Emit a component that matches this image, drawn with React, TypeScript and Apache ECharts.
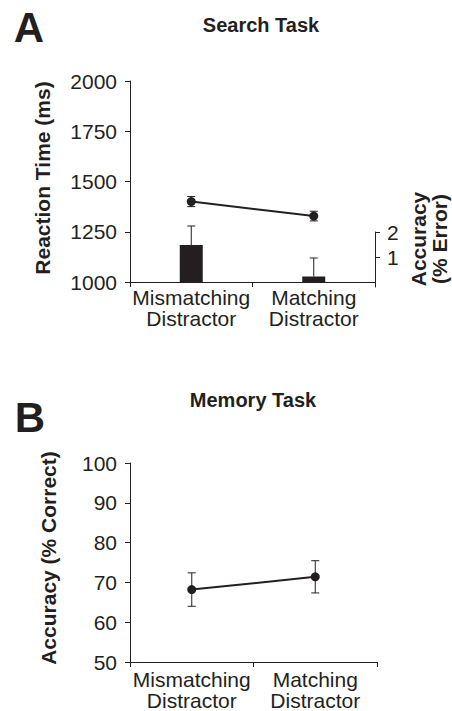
import React, { useEffect, useRef } from "react";
import * as echarts from "echarts";

const categories = ["Mismatching\nDistractor", "Matching\nDistractor"];
// Panel A: Search task
const rtMeans = [1400, 1328];
const rtErrors = [25, 24];
const errorRates = [1.48, 0.22];
const errorRateErrors = [0.76, 0.74];
const rtTicks = [1000, 2000, 250];
const errTickValues = [1, 2];
// Panel B: Memory task
const memoryAcc = [68.2, 71.4];
const memoryErrors = [4.2, 4.05];
const accTicks = [50, 100, 10];

const INK = "#231f20";
const FONT = "'Liberation Sans', Arial, Helvetica, sans-serif";

function errorBarItem(capBottom: boolean) {
  return (params: any, api: any) => {
    const x = api.value(0);
    const hi = api.value(1);
    const lo = api.value(2);
    const pHi = api.coord([x, hi]);
    const pLo = api.coord([x, lo]);
    const cap = 4;
    const children: any[] = [
      { type: "line", shape: { x1: pHi[0], y1: pHi[1], x2: pLo[0], y2: pLo[1] }, style: { stroke: INK, lineWidth: 1 } },
      { type: "line", shape: { x1: pHi[0] - cap, y1: pHi[1], x2: pHi[0] + cap, y2: pHi[1] }, style: { stroke: INK, lineWidth: 1 } },
    ];
    if (capBottom) {
      children.push({ type: "line", shape: { x1: pLo[0] - cap, y1: pLo[1], x2: pLo[0] + cap, y2: pLo[1] }, style: { stroke: INK, lineWidth: 1 } });
    }
    return { type: "group", children };
  };
}

export default function App() {
  const ref = useRef<HTMLDivElement>(null);
  useEffect(() => {
    if (!ref.current) return;
    const chart = echarts.init(ref.current, undefined, { renderer: "svg" });

    const axisLineStyle = { lineStyle: { color: INK, width: 1 } };
    const tickLabel = { color: INK, fontSize: 21, fontFamily: FONT, formatter: (v: any) => String(v) };

    const catAxis = (gridIndex: number, margin: number, show = true) => ({
      type: "category",
      gridIndex,
      data: categories,
      show,
      boundaryGap: true,
      axisLine: axisLineStyle,
      axisTick: { show: true, length: 5, lineStyle: { color: INK } },
      axisLabel: { color: INK, fontSize: 21, fontFamily: FONT, margin, lineHeight: 21, interval: 0 },
      splitLine: { show: false },
    });

    const option: any = {
      animation: false,
      backgroundColor: "#ffffff",
      textStyle: { fontFamily: FONT },
      grid: [
        { left: 130, top: 81, width: 245, height: 201 },
        { left: 130, top: 232, width: 245, height: 55 },
        { left: 130, top: 463, width: 247, height: 201 },
      ],
      xAxis: [catAxis(0, 5), catAxis(1, 5, false), catAxis(2, 7)],
      yAxis: [
        {
          type: "value",
          gridIndex: 0,
          min: rtTicks[0],
          max: rtTicks[1],
          interval: rtTicks[2],
          axisLine: { show: true, ...axisLineStyle },
          axisTick: { show: true, length: 5, lineStyle: { color: INK } },
          axisLabel: { ...tickLabel, margin: 13 },
          splitLine: { show: false },
        },
        {
          type: "value",
          gridIndex: 1,
          position: "right",
          min: -0.2,
          max: 2,
          axisLine: { show: true, ...axisLineStyle },
          axisTick: { show: true, length: 5, lineStyle: { color: INK }, customValues: errTickValues },
          axisLabel: { ...tickLabel, margin: 12, customValues: errTickValues },
          splitLine: { show: false },
        },
        {
          type: "value",
          gridIndex: 2,
          min: accTicks[0],
          max: accTicks[1],
          interval: accTicks[2],
          axisLine: { show: true, ...axisLineStyle },
          axisTick: { show: true, length: 5, lineStyle: { color: INK } },
          axisLabel: { ...tickLabel, margin: 13 },
          splitLine: { show: false },
        },
      ],
      series: [
        {
          type: "bar",
          name: "Accuracy (% Error)",
          xAxisIndex: 1,
          yAxisIndex: 1,
          data: errorRates,
          barWidth: 23,
          itemStyle: { color: INK },
          z: 2,
        },
        {
          type: "custom",
          name: "Error rate SE",
          xAxisIndex: 1,
          yAxisIndex: 1,
          data: errorRates.map((v, i) => [i, v + errorRateErrors[i], v]),
          encode: { x: 0, y: [1, 2] },
          renderItem: errorBarItem(false),
          z: 3,
        },
        {
          type: "custom",
          name: "RT SE",
          xAxisIndex: 0,
          yAxisIndex: 0,
          data: rtMeans.map((v, i) => [i, v + rtErrors[i], v - rtErrors[i]]),
          encode: { x: 0, y: [1, 2] },
          renderItem: errorBarItem(true),
          z: 3,
        },
        {
          type: "line",
          name: "Reaction Time (ms)",
          xAxisIndex: 0,
          yAxisIndex: 0,
          data: rtMeans,
          symbol: "circle",
          symbolSize: 9,
          lineStyle: { color: INK, width: 2 },
          itemStyle: { color: INK },
          z: 4,
        },
        {
          type: "custom",
          name: "Accuracy SE",
          xAxisIndex: 2,
          yAxisIndex: 2,
          data: memoryAcc.map((v, i) => [i, v + memoryErrors[i], v - memoryErrors[i]]),
          encode: { x: 0, y: [1, 2] },
          renderItem: errorBarItem(true),
          z: 3,
        },
        {
          type: "line",
          name: "Accuracy (% Correct)",
          xAxisIndex: 2,
          yAxisIndex: 2,
          data: memoryAcc,
          symbol: "circle",
          symbolSize: 9,
          lineStyle: { color: INK, width: 2 },
          itemStyle: { color: INK },
          z: 4,
        },
      ],
      graphic: [
        { type: "text", x: 29, y: 27, style: { text: "A", font: `bold 42px ${FONT}`, fill: INK, align: "center", verticalAlign: "middle" } },
        { type: "text", x: 261, y: 25, style: { text: "Search Task", font: `bold 20px ${FONT}`, fill: INK, align: "center", verticalAlign: "middle" } },
        { type: "text", x: 42, y: 178, rotation: Math.PI / 2, style: { text: "Reaction Time (ms)", font: `bold 21px ${FONT}`, fill: INK, align: "center", verticalAlign: "middle" } },
        { type: "text", x: 429, y: 239, rotation: Math.PI / 2, style: { text: "Accuracy\n(% Error)", font: `bold 21px ${FONT}`, lineHeight: 21, fill: INK, align: "center", verticalAlign: "middle" } },
        { type: "text", x: 30, y: 417, style: { text: "B", font: `bold 42px ${FONT}`, fill: INK, align: "center", verticalAlign: "middle" } },
        { type: "text", x: 253, y: 400, style: { text: "Memory Task", font: `bold 20px ${FONT}`, fill: INK, align: "center", verticalAlign: "middle" } },
        { type: "text", x: 48, y: 558, rotation: Math.PI / 2, style: { text: "Accuracy (% Correct)", font: `bold 21px ${FONT}`, fill: INK, align: "center", verticalAlign: "middle" } },
      ],
    };
    chart.setOption(option);
    return () => chart.dispose();
  }, []);
  return <div ref={ref} style={{ position: "fixed", left: 0, top: 0, width: 452, height: 711 }} />;
}
